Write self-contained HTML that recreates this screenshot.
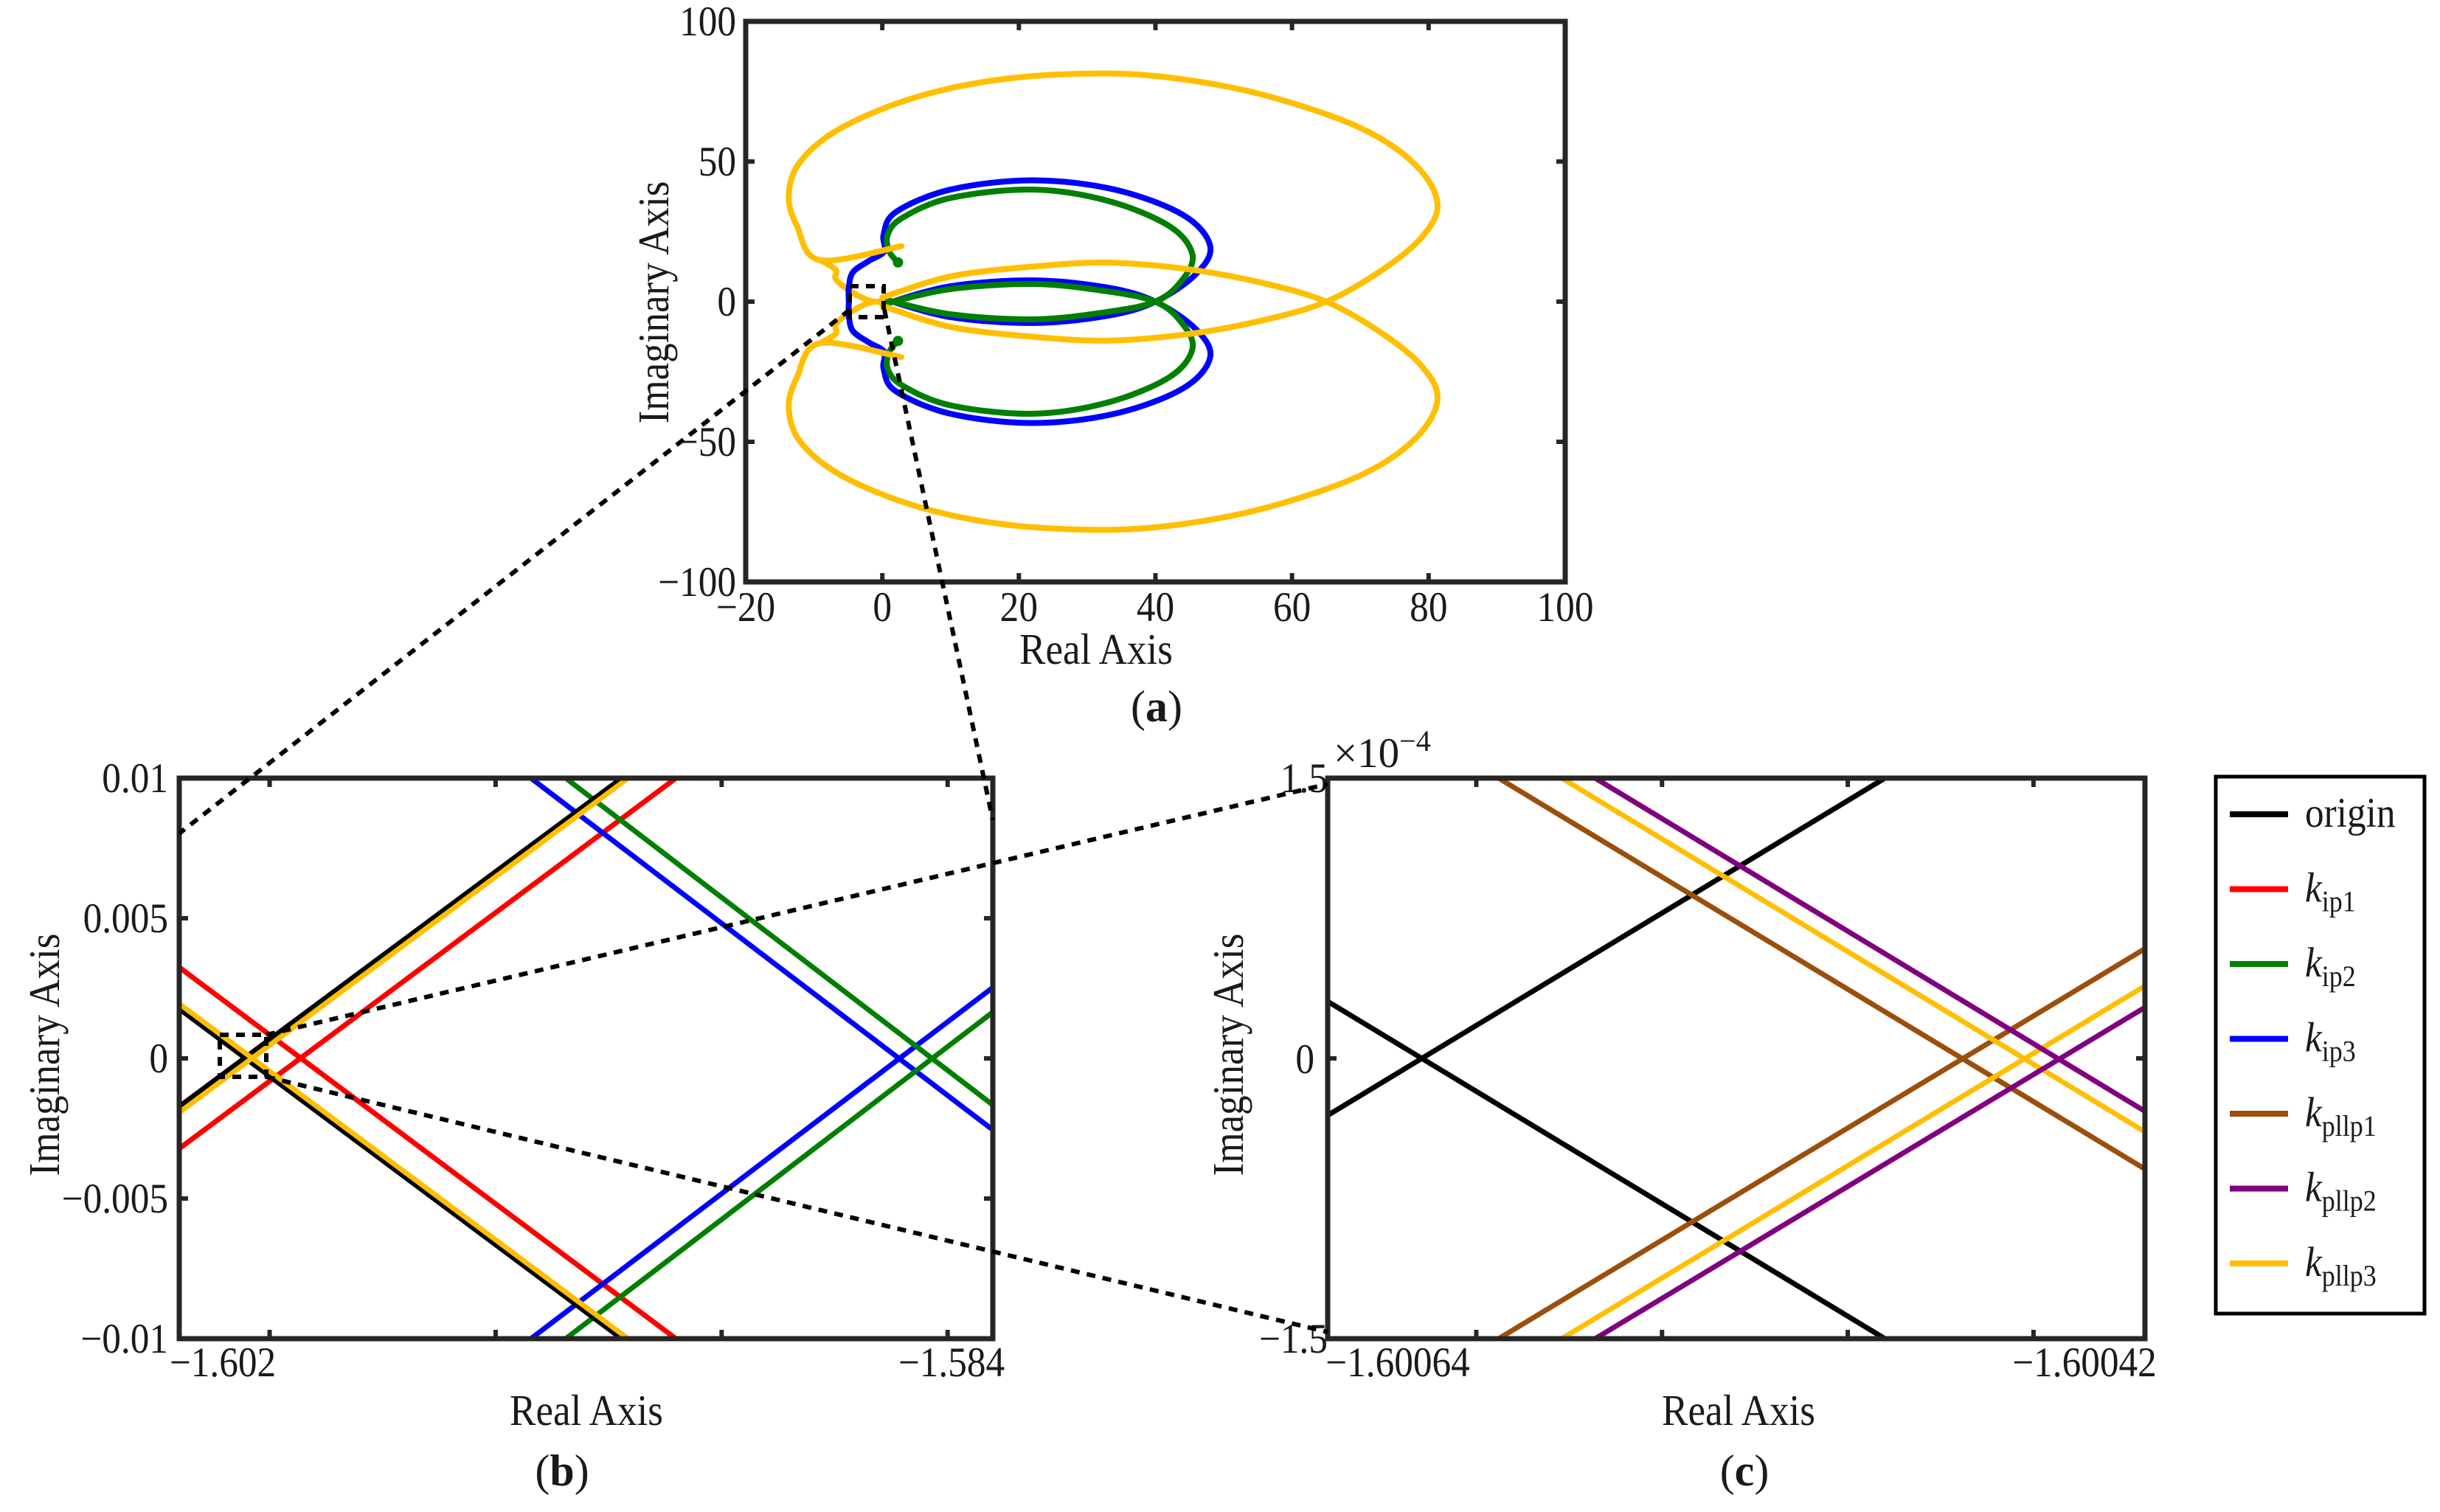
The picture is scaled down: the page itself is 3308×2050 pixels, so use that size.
<!DOCTYPE html>
<html><head><meta charset="utf-8">
<style>
html,body{margin:0;padding:0;background:#fff;}
svg text{font-family:"Liberation Serif",serif;fill:#1a1a1a;}
</style></head>
<body>
<svg id="fig" width="3308" height="2045" viewBox="0 0 3308 2045" xmlns="http://www.w3.org/2000/svg">
</svg>
<script>
// ---------- Panel (a) data (upper halves; lower halves are conjugates) ----------
const aBlueLoop = [[0.8,0.5],[10,-5.5],[22,-7.6],[33,-5],[40,0],[46,10],[48,20],[44,31],[34,40],[22,43.3],[10,40],[2,32],[0.2,24],[0.3,18],[-2,14.5],[-4.3,10.5],[-4.9,5],[-4.9,0]];
const aGreenLoop = [[0.8,0.5],[10,-4.5],[22,-6.3],[32,-4],[40,0],[44,8],[45.4,17],[42,27],[33,36],[22,40],[10,37],[3,30],[0.8,24],[1,18],[2.3,14]];
const aYellowLoop = [[0,-1.5],[10,-9],[22,-12.5],[33,-13.9],[45,-11.5],[56,-6.5],[65,0],[73,11],[79,23],[81.3,35],[78,49],[70,62],[57,73],[45,79],[33,81.4],[18,79.5],[5,73],[-6,62],[-12,50],[-13.7,38],[-12.5,27],[-9.1,14.8],[2.8,19.8]];
const aYellowHook = [[-9.1,14.8],[-6.8,11.4],[-6.8,8],[-4.5,3.5],[-1.8,0.3],[0,0]];
const aXTicks = [-20,0,20,40,60,80,100];
const aYTicks = [-100,-50,0,50,100];
const aXLabels = ["\u221220","0","20","40","60","80","100"];
const aYLabels = ["\u2212100","\u221250","0","50","100"];

// ---------- Panel (b) data: line segments [x0,y0,x1,y1] ----------
const bOrigin = [[-1.602,-0.00172,-1.59221,0.01],[-1.602,0.00177,-1.59221,-0.01]];
const bKip1 = [[-1.602,-0.00322,-1.59101,0.01],[-1.602,0.00325,-1.59101,-0.01]];
const bKip2 = [[-1.59345,0.01,-1.584,-0.00166],[-1.59345,-0.01,-1.584,0.00165]];
const bKip3 = [[-1.59422,0.01,-1.584,-0.00255],[-1.59422,-0.01,-1.584,0.00253]];
const bKpllp3 = [[-1.602,-0.00193,-1.59207,0.01],[-1.602,0.00195,-1.59207,-0.01]];
const bXTicks = [-1.6,-1.595,-1.59,-1.585];
const bYTicks = [-0.01,-0.005,0,0.005,0.01];
const bYLabels = ["\u22120.01","\u22120.005","0","0.005","0.01"];

// ---------- Panel (c) data (y in units of 1e-4) ----------
const cOrigin = [[-1.60064,-0.305,-1.60049,1.5],[-1.60064,0.305,-1.60049,-1.5]];
const cKpllp1 = [[-1.600594,1.5,-1.60042,-0.592],[-1.600594,-1.5,-1.60042,0.587]];
const cKpllp2 = [[-1.600568,1.5,-1.60042,-0.283],[-1.600568,-1.5,-1.60042,0.273]];
const cKpllp3 = [[-1.600577,1.5,-1.60042,-0.393],[-1.600577,-1.5,-1.60042,0.388]];
const cXTicks = [-1.6006,-1.60055,-1.6005,-1.60045];

const NS="http://www.w3.org/2000/svg";
const svg=document.getElementById('fig');
const FS=57, SX=0.9;
function mk(tag,attrs,parent){const e=document.createElementNS(NS,tag);for(const k in attrs)e.setAttribute(k,attrs[k]);(parent||svg).appendChild(e);return e;}
function txt(s,x,y,size,anchor,parent,rot){const t=mk('text',{'font-size':size,'text-anchor':anchor||'middle',transform:`translate(${x},${y})`+(rot?' rotate(-90)':'')+` scale(${SX},1)`},parent);t.textContent=s;return t;}
function scale(d0,d1,p0,p1){return v=>p0+(v-d0)/(d1-d0)*(p1-p0);}
function catmull(pts){let d=`M${pts[0][0]},${pts[0][1]}`;for(let i=0;i<pts.length-1;i++){const p0=pts[Math.max(0,i-1)],p1=pts[i],p2=pts[i+1],p3=pts[Math.min(pts.length-1,i+2)];const c1=[p1[0]+(p2[0]-p0[0])/6,p1[1]+(p2[1]-p0[1])/6],c2=[p2[0]-(p3[0]-p1[0])/6,p2[1]-(p3[1]-p1[1])/6];d+=` C${c1[0]},${c1[1]} ${c2[0]},${c2[1]} ${p2[0]},${p2[1]}`;}return d;}

const COL={origin:'#000000',kip1:'#ff0000',kip2:'#007f00',kip3:'#0000ff',kpllp1:'#9c4f0c',kpllp2:'#800080',kpllp3:'#ffbf00'};
const FRAME='#262626';

// ===== Panel (a) =====
const A={l:1011,r:2122,t:29,b:789};
const ax=scale(-20,100,A.l,A.r), ay=scale(-100,100,A.b,A.t);
const gA=mk('g',{});


function drawCurve(pts,color,name){
  const up=pts.map(p=>[ax(p[0]),ay(p[1])]);
  const lo=pts.map(p=>[ax(p[0]),ay(-p[1])]);
  [up,lo].forEach((q,i)=>{const e=mk('path',{d:catmull(q),fill:'none',stroke:color,'stroke-width':8,'stroke-linejoin':'round','stroke-linecap':'round'},gA);
  
  });
}
drawCurve(aYellowHook,COL.kpllp3,'kpllp3-hook');
drawCurve(aBlueLoop,COL.kip3,'kip3-locus');
drawCurve(aGreenLoop,COL.kip2,'kip2-locus');
drawCurve(aYellowLoop,COL.kpllp3,'kpllp3-locus');
[[2.3,14],[2.3,-14]].forEach(p=>{const c=mk('circle',{cx:ax(p[0]),cy:ay(p[1]),r:7,fill:COL.kip2},gA);});
const fa=mk('rect',{x:A.l,y:A.t,width:A.r-A.l,height:A.b-A.t,fill:'none',stroke:FRAME,'stroke-width':7},gA);

aXTicks.forEach((v,i)=>{const x=ax(v);mk('line',{x1:x,y1:A.b,x2:x,y2:A.b-12,stroke:FRAME,'stroke-width':6},gA);mk('line',{x1:x,y1:A.t,x2:x,y2:A.t+12,stroke:FRAME,'stroke-width':6},gA);
  const t=txt(aXLabels[i],x,842,FS,'middle',gA);});
aYTicks.forEach((v,i)=>{const y=ay(v);mk('line',{x1:A.l,y1:y,x2:A.l+12,y2:y,stroke:FRAME,'stroke-width':6},gA);mk('line',{x1:A.r,y1:y,x2:A.r-12,y2:y,stroke:FRAME,'stroke-width':6},gA);
  const t=txt(aYLabels[i],998,y+19,FS,'end',gA);});
let t=txt('Real Axis',1486,900,FS+2,'middle',gA);
t=txt('Imaginary Axis',906,410,FS+2,'middle',gA,true);
t=mk('text',{x:1568,y:978,'font-size':60,'text-anchor':'middle'},gA);t.innerHTML='(<tspan font-weight="bold">a</tspan>)';

// ===== Panel (b) =====
const B={l:243,r:1346,t:1055,b:1815};
const bx=scale(-1.602,-1.584,B.l,B.r), by=scale(-0.01,0.01,B.b,B.t);
const gB=mk('g',{});


function drawSegs(segs,sx,sy,color,name,g){segs.forEach(s=>{const e=mk('line',{x1:sx(s[0]),y1:sy(s[1]),x2:sx(s[2]),y2:sy(s[3]),stroke:color,'stroke-width':7},g);
  
  });}
drawSegs(bKip1,bx,by,COL.kip1,'b-kip1-line',gB);
drawSegs(bKip3,bx,by,COL.kip3,'b-kip3-line',gB);
drawSegs(bKip2,bx,by,COL.kip2,'b-kip2-line',gB);
drawSegs(bOrigin,bx,by,COL.origin,'b-origin-line',gB);
drawSegs(bKpllp3,bx,by,COL.kpllp3,'b-kpllp3-line',gB);
const fb=mk('rect',{x:B.l,y:B.t,width:B.r-B.l,height:B.b-B.t,fill:'none',stroke:FRAME,'stroke-width':7},gB);

bXTicks.forEach(v=>{const x=bx(v);mk('line',{x1:x,y1:B.b,x2:x,y2:B.b-12,stroke:FRAME,'stroke-width':6},gB);mk('line',{x1:x,y1:B.t,x2:x,y2:B.t+12,stroke:FRAME,'stroke-width':6},gB);});
bYTicks.forEach((v,i)=>{const y=by(v);mk('line',{x1:B.l,y1:y,x2:B.l+12,y2:y,stroke:FRAME,'stroke-width':6},gB);mk('line',{x1:B.r,y1:y,x2:B.r-12,y2:y,stroke:FRAME,'stroke-width':6},gB);
  const tt=txt(bYLabels[i],228,y+19,FS,'end',gB);});
t=txt('\u22121.602',302,1866,FS,'middle',gB);
t=txt('\u22121.584',1290,1866,FS,'middle',gB);
t=txt('Real Axis',795,1932,FS+2,'middle',gB);
t=txt('Imaginary Axis',80,1430,FS+2,'middle',gB,true);
t=mk('text',{x:762,y:2014,'font-size':60,'text-anchor':'middle'},gB);t.innerHTML='(<tspan font-weight="bold">b</tspan>)';

// ===== Panel (c) =====
const C={l:1800,r:2908,t:1055,b:1815};
const cx=scale(-1.60064,-1.60042,C.l,C.r), cy=scale(-1.5,1.5,C.b,C.t);
const gC=mk('g',{});


drawSegs(cOrigin,cx,cy,COL.origin,'c-origin-line',gC);
drawSegs(cKpllp1,cx,cy,COL.kpllp1,'c-kpllp1-line',gC);
drawSegs(cKpllp3,cx,cy,COL.kpllp3,'c-kpllp3-line',gC);
drawSegs(cKpllp2,cx,cy,COL.kpllp2,'c-kpllp2-line',gC);
const fc=mk('rect',{x:C.l,y:C.t,width:C.r-C.l,height:C.b-C.t,fill:'none',stroke:FRAME,'stroke-width':7},gC);

cXTicks.forEach(v=>{const x=cx(v);mk('line',{x1:x,y1:C.b,x2:x,y2:C.b-12,stroke:FRAME,'stroke-width':6},gC);mk('line',{x1:x,y1:C.t,x2:x,y2:C.t+12,stroke:FRAME,'stroke-width':6},gC);});
[0].forEach(v=>{const y=cy(v);mk('line',{x1:C.l,y1:y,x2:C.l+12,y2:y,stroke:FRAME,'stroke-width':6},gC);mk('line',{x1:C.r,y1:y,x2:C.r-12,y2:y,stroke:FRAME,'stroke-width':6},gC);});
t=txt('1.5',1800,1074,FS,'end',gC);
t=txt('0',1782,1455,FS,'end',gC);
t=txt('\u22121.5',1800,1834,FS,'end',gC);
t=mk('text',{x:1808,y:1040,'font-size':FS,'text-anchor':'start'},gC);t.innerHTML='\u00d710<tspan font-size="40" dy="-22">\u22124</tspan>';
t=txt('\u22121.60064',1895,1866,FS,'middle',gC);
t=txt('\u22121.60042',2826,1866,FS,'middle',gC);
t=txt('Real Axis',2357,1932,FS+2,'middle',gC);
t=txt('Imaginary Axis',1685,1430,FS+2,'middle',gC,true);
t=mk('text',{x:2365,y:2014,'font-size':60,'text-anchor':'middle'},gC);t.innerHTML='(<tspan font-weight="bold">c</tspan>)';

// ===== Zoom indicators (dashed) =====
const gZ=mk('g',{fill:'none',stroke:'#000','stroke-width':6,'stroke-dasharray':'12,10'});


mk('rect',{x:1152,y:388,width:46,height:42},gZ);
mk('line',{x1:1152,y1:420,x2:243,y2:1130},gZ);
mk('line',{x1:1199,y1:420,x2:1346,y2:1112},gZ);
mk('rect',{x:298,y:1403,width:63,height:57},gZ);
mk('line',{x1:361,y1:1403,x2:1800,y2:1063},gZ);
mk('line',{x1:361,y1:1460,x2:1800,y2:1806},gZ);

// ===== Legend =====
const legNames=['origin','kip1','kip2','kip3','kpllp1','kpllp2','kpllp3'];
const legSub=['','ip1','ip2','ip3','pllp1','pllp2','pllp3'];
const gL=mk('g',{});


mk('rect',{x:3004,y:1053,width:283,height:728,fill:'#fff',stroke:'#000','stroke-width':5},gL);
legNames.forEach((n,i)=>{const y=1104+i*101.5;const g=mk('g',{},gL);
  
  
  mk('line',{x1:3023,y1:y,x2:3102,y2:y,stroke:COL[n],'stroke-width':8},g);
  const tt=mk('text',{'font-size':FS,'text-anchor':'start',transform:`translate(3125,${y+17}) scale(${SX},1)`},g);
  if(i===0){tt.textContent='origin';}else{tt.innerHTML='<tspan font-style="italic">k</tspan><tspan font-size="40" dy="13">'+legSub[i]+'</tspan>';}
});
</script>
</body></html>
